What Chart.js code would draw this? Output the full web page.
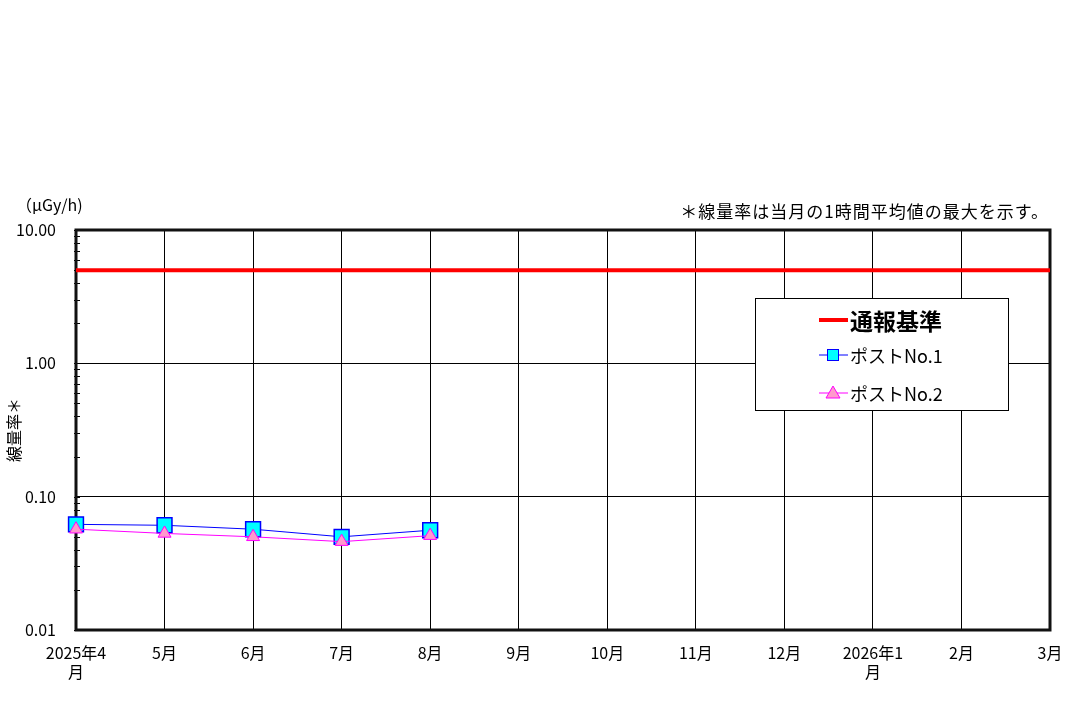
<!DOCTYPE html>
<html>
<head>
<meta charset="utf-8">
<script src="https://cdn.jsdelivr.net/npm/chart.js@4.4.1/dist/chart.umd.min.js"></script>
<style>
  html, body { margin: 0; padding: 0; background: #fff; }
  #wrap { width: 1073px; height: 707px; }
</style>
</head>
<body>
<div id="wrap"><canvas id="chart" width="1073" height="707"></canvas></div>
<script>
const months = [["2025年4", "月"], "5月", "6月", "7月", "8月", "9月", "10月", "11月", "12月", ["2026年1", "月"], "2月", "3月"];
const post1 = [0.062, 0.061, 0.057, 0.050, 0.056, null, null, null, null, null, null, null];
const post2 = [0.057, 0.053, 0.050, 0.046, 0.051, null, null, null, null, null, null, null];
const alertLevel = [5, 5, 5, 5, 5, 5, 5, 5, 5, 5, 5, 5];
const yTicks = [0.01, 0.1, 1, 10];

const JP = "'Noto Sans CJK JP', 'Noto Sans', sans-serif";

// 枠・目盛り・注記・凡例
const decorations = {
  id: "decorations",
  beforeDatasetsDraw(chart) {
    const { ctx, chartArea: a, scales } = chart;
    ctx.save();
    // 左軸の補助目盛り
    ctx.strokeStyle = "#000";
    ctx.lineWidth = 1;
    for (let d = 0.01; d < 10; d *= 10) {
      for (let k = 1; k <= 10; k++) {
        const y = Math.round(scales.y.getPixelForValue(d * k)) + 0.5;
        ctx.beginPath();
        ctx.moveTo(a.left - 2, y);
        ctx.lineTo(a.left + 4, y);
        ctx.stroke();
      }
    }
    // 外枠
    ctx.strokeStyle = "#111";
    ctx.lineWidth = 3;
    ctx.strokeRect(a.left, a.top, a.right - a.left, a.bottom - a.top);
    ctx.restore();
  },
  afterDraw(chart) {
    const { ctx, chartArea: a } = chart;
    ctx.save();
    ctx.fillStyle = "#000";
    ctx.textBaseline = "middle";
    ctx.font = "16px " + JP;
    ctx.textAlign = "left";
    ctx.fillText("（μGy/h)", 16, 205);
    ctx.font = "17px " + JP;
    ctx.textAlign = "right";
    ctx.letterSpacing = "1px";
    ctx.fillText("＊線量率は当月の1時間平均値の最大を示す。", a.right - 1, 212);
    ctx.letterSpacing = "0px";

    // 凡例
    const bx = 755, by = 298, bw = 253, bh = 112;
    ctx.fillStyle = "#fff";
    ctx.fillRect(bx, by, bw, bh);
    ctx.strokeStyle = "#000";
    ctx.lineWidth = 1;
    ctx.strokeRect(bx + 0.5, by + 0.5, bw, bh);

    const rows = [
      { y: 320, text: "通報基準", font: "bold 23px " + JP, color: "#ff0000", width: 4, marker: null },
      { y: 355, text: "ポストNo.1", font: "18px " + JP, color: "#0000ff", width: 1, marker: "rect" },
      { y: 393, text: "ポストNo.2", font: "18px " + JP, color: "#ff00ff", width: 1, marker: "triangle" }
    ];
    rows.forEach(r => {
      ctx.strokeStyle = r.color;
      ctx.lineWidth = r.width;
      ctx.beginPath();
      ctx.moveTo(819, r.y);
      ctx.lineTo(848, r.y);
      ctx.stroke();
      if (r.marker === "rect") {
        ctx.fillStyle = "#00ffff";
        ctx.fillRect(827, r.y - 6, 12, 12);
        ctx.strokeRect(827.5, r.y - 5.5, 11, 11);
      } else if (r.marker === "triangle") {
        ctx.fillStyle = "#ff99cc";
        ctx.beginPath();
        ctx.moveTo(833, r.y - 7);
        ctx.lineTo(840, r.y + 5);
        ctx.lineTo(826, r.y + 5);
        ctx.closePath();
        ctx.fill();
        ctx.stroke();
      }
      ctx.fillStyle = "#000";
      ctx.textAlign = "left";
      ctx.font = r.font;
      ctx.fillText(r.text, 850, r.y + 1);
    });
    ctx.restore();
  }
};

new Chart(document.getElementById("chart"), {
  type: "line",
  data: {
    labels: months,
    datasets: [
      {
        label: "通報基準",
        data: alertLevel,
        borderColor: "#ff0000",
        borderWidth: 4,
        pointRadius: 0,
        order: 3
      },
      {
        label: "ポストNo.1",
        data: post1,
        borderColor: "#0000ff",
        borderWidth: 1,
        pointStyle: "rect",
        pointRadius: 10.5,
        pointBackgroundColor: "#00ffff",
        pointBorderColor: "#0000ff",
        pointBorderWidth: 1.5,
        order: 2
      },
      {
        label: "ポストNo.2",
        data: post2,
        borderColor: "#ff00ff",
        borderWidth: 1,
        pointStyle: "triangle",
        pointRadius: 7.5,
        pointBackgroundColor: "#ff99cc",
        pointBorderColor: "#ff00ff",
        pointBorderWidth: 1,
        order: 1
      }
    ]
  },
  options: {
    responsive: false,
    animation: false,
    layout: { padding: { top: 230, right: 23, left: 0, bottom: 0 } },
    plugins: {
      legend: { display: false },
      tooltip: { enabled: false }
    },
    scales: {
      x: {
        offset: false,
        grid: { color: "#000", lineWidth: 1, drawTicks: false },
        border: { display: false },
        ticks: {
          color: "#000",
          font: { family: JP, size: 16 },
          padding: 13,
          maxRotation: 0,
          autoSkip: false
        },
        afterFit(s) {
          s.height = 77;
          s.paddingLeft = 0;
          s.paddingRight = 0;
        }
      },
      y: {
        type: "logarithmic",
        min: 0.01,
        max: 10,
        grid: { color: "#000", lineWidth: 1, drawTicks: false },
        border: { display: false },
        afterBuildTicks(s) { s.ticks = yTicks.map(v => ({ value: v })); },
        ticks: {
          color: "#000",
          font: { family: JP, size: 16 },
          padding: 20,
          callback: v => Number(v).toFixed(2)
        },
        title: {
          display: true,
          text: "線量率＊",
          color: "#000",
          font: { family: JP, size: 16 },
          padding: { top: 4, bottom: 0 }
        },
        afterFit(s) { s.width = 76; }
      }
    }
  },
  plugins: [decorations]
});
</script>
</body>
</html>
